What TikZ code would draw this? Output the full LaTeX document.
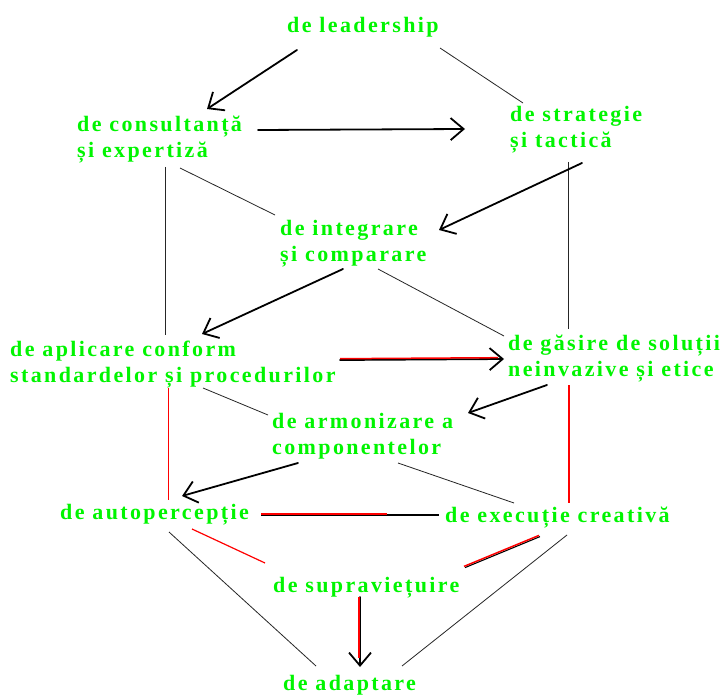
\documentclass[tikz,border=0pt]{standalone}
\usepackage{fontspec}
\newfontfamily\lblfont{Liberation Serif}[UprightFont=* Bold, LetterSpace=10.8]
\usetikzlibrary{arrows.meta}
\definecolor{lbl}{RGB}{0,245,0}
\definecolor{redl}{RGB}{255,0,0}
\tikzset{
  lab/.style={anchor=base west, inner sep=0pt, align=left, text=lbl,
    font=\lblfont\fontsize{22}{26}\selectfont},
  thick arrow/.style={draw=black, line width=1.8pt, line cap=round,
    -{Straight Barb[length=13pt,width=22pt,line width=1.8pt]}},
  thin link/.style={draw=black!85, line width=0.8pt},
  red link/.style={draw=redl, line width=1.2pt},
  heavy link/.style={draw=black, line width=1.1pt},
  red overlay/.style={draw=redl, line width=1.5pt},
}
\begin{document}
\begin{tikzpicture}[x=1pt,y=-1pt]
\useasboundingbox (0,0) rectangle (726,695);
\fill[white] (0,0) rectangle (726,695);

\node[lab] (L) at (287,33) {de leadership};
\node[lab] (C) at (77,158) {de consultanță\\și expertiză};
\node[lab] (S) at (510,148) {de strategie\\și tactică};
\node[lab] (I) at (280,262) {de integrare\\și comparare};
\node[lab] (A) at (10,382) {de aplicare conform\\standardelor și procedurilor};
\node[lab] (G) at (508,376) {de găsire de soluții\\neinvazive și etice};
\node[lab] (H) at (272,454) {de armonizare a\\componentelor};
\node[lab] (P) at (60,519) {de autopercepție};
\node[lab] (E) at (445,522) {de execuție creativă};
\node[lab] (V) at (273,592) {de supraviețuire};
\node[lab] (D) at (283,690) {de adaptare};

% thin black links
\draw[thin link] ([shift={(153,15)}]L.base west) -- ([shift={(13,-45)}]S.base west);
\draw[thin link] ([shift={(103,10)}]C.base west) -- ([shift={(-5,-47)}]I.base west);
\draw[thin link] ([shift={(88.5,9)}]C.base west) -- ([shift={(155.5,-47)}]A.base west);
\draw[thin link] ([shift={(58.5,14)}]S.base west) -- ([shift={(60.5,-47)}]G.base west);
\draw[thin link] ([shift={(98,7)}]I.base west) -- ([shift={(-4,-40)}]G.base west);
\draw[thin link] ([shift={(193,6)}]A.base west) -- ([shift={(-4,-39)}]H.base west);
\draw[thin link] ([shift={(126,9)}]H.base west) -- ([shift={(69,-19)}]E.base west);
\draw[thin link] ([shift={(109,13)}]P.base west) -- ([shift={(33,-24)}]D.base west);
\draw[thin link] ([shift={(122,13)}]E.base west) -- ([shift={(119,-24)}]D.base west);

% red links
\draw[red link] ([shift={(158.5,6)}]A.base west) -- ([shift={(108.5,-19)}]P.base west);
\draw[red link, line width=1.5pt] ([shift={(61.2,9)}]G.base west) -- ([shift={(124.2,-19)}]E.base west);
\draw[red link] ([shift={(132,10)}]P.base west) -- ([shift={(-8,-29)}]V.base west);

% heavy mixed links
\draw[heavy link] ([shift={(201,-4)}]P.base west) -- ([shift={(-6,-7)}]E.base west);
\draw[red overlay] ([shift={(201,-5.2)}]P.base west) -- ([shift={(-58,-8.2)}]E.base west);
\draw[heavy link] ([shift={(95,14.6)}]E.base west) -- ([shift={(192,-24.4)}]V.base west);
\draw[red overlay] ([shift={(94,13.4)}]E.base west) -- ([shift={(191,-25.6)}]V.base west);

% arrows
\draw[thick arrow] ([shift={(10,17)}]L.base west) -- ([shift={(130,-49)}]C.base west);
\draw[thick arrow] ([shift={(181,-28)}]C.base west) -- ([shift={(-45,-19)}]S.base west);
\draw[thick arrow] ([shift={(72,15)}]S.base west) -- ([shift={(159,-32)}]I.base west);
\draw[thick arrow] ([shift={(63,7)}]I.base west) -- ([shift={(192,-48)}]A.base west);
\draw[thick arrow] ([shift={(330,-22)}]A.base west) -- ([shift={(-4,-17)}]G.base west);
\draw[red overlay] ([shift={(330,-23.3)}]A.base west) -- ([shift={(-10,-18.3)}]G.base west);
\draw[thick arrow] ([shift={(39,9)}]G.base west) -- ([shift={(196,-41)}]H.base west);
\draw[thick arrow] ([shift={(26,9)}]H.base west) -- ([shift={(122,-23)}]P.base west);
\draw[thick arrow] ([shift={(87,5)}]V.base west) -- ([shift={(77,-23)}]D.base west);
\draw[red overlay] ([shift={(86.2,5)}]V.base west) -- ([shift={(76.2,-32)}]D.base west);
\end{tikzpicture}
\end{document}
